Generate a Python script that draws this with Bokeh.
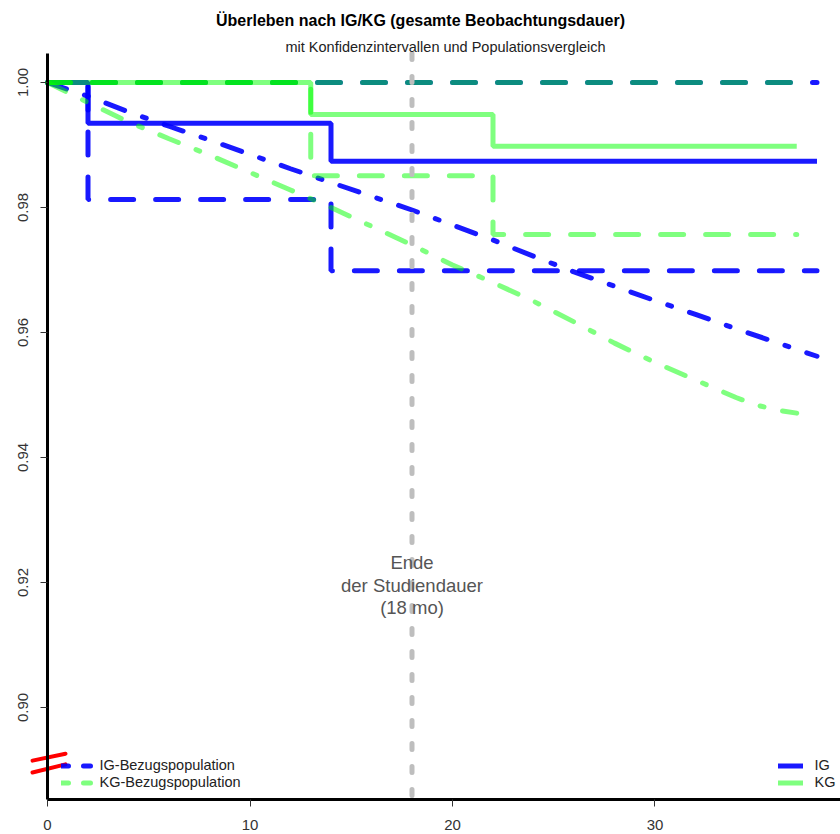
from bokeh.plotting import figure
from bokeh.models import Range1d, Label, Legend, LegendItem, FixedTicker
from bokeh.core.properties import value
from bokeh.embed import file_html
from bokeh.resources import INLINE

# ---- data ----
ig_time = [0, 2, 14, 38]
ig_surv = [1.0, 0.9935, 0.9874, 0.9874]
ig_lower = [1.0, 0.9813, 0.9699, 0.9699]
ig_upper = [1.0, 1.0, 1.0, 1.0]

kg_time = [0, 13, 22, 37]
kg_surv = [1.0, 0.9949, 0.9898, 0.9898]
kg_lower = [1.0, 0.9851, 0.9757, 0.9757]
kg_upper = [1.0, 1.0, 1.0, 1.0]

igpop_time = [0, 2, 4, 6, 8, 10, 12, 14, 16, 18, 20, 22, 24, 26, 28, 30, 32, 34, 36, 38]
igpop_surv = [1.0, 0.9978, 0.9953, 0.9930, 0.9908, 0.9885, 0.9862, 0.9840, 0.9818, 0.9796,
              0.9772, 0.9748, 0.9722, 0.9697, 0.9674, 0.9651, 0.9629, 0.9606, 0.9584, 0.9562]

kgpop_time = [0, 2, 4, 6, 8, 10, 12, 14, 16, 18, 20, 22, 24, 26, 28, 30, 32, 34, 35, 36, 37]
kgpop_surv = [1.0, 0.9968, 0.9937, 0.9910, 0.9884, 0.9856, 0.9828, 0.9800, 0.9770, 0.9740,
              0.9708, 0.9680, 0.9650, 0.9617, 0.9583, 0.9552, 0.9524, 0.9496, 0.9484, 0.9476, 0.9471]

study_end = 18
note_lines = ["Ende", "der Studiendauer", "(18 mo)"]
note_y = [0.9232, 0.9195, 0.9160]

y_ticks = [0.90, 0.92, 0.94, 0.96, 0.98, 1.00]
x_ticks = [0, 10, 20, 30]

# plot region (data units)
x_lo, x_hi = 0.0, 39.16
y_lo, y_hi = 0.88528, 1.00464

# axis break marks
break_x0 = [-0.74, -0.74]
break_x1 = [0.89, 0.89]
break_y0 = [0.8915, 0.8896]
break_y1 = [0.8926, 0.8909]

legend_left_labels = ["IG-Bezugspopulation", "KG-Bezugspopulation"]
legend_right_labels = ["IG", "KG"]

title_text = "Überleben nach IG/KG (gesamte Beobachtungsdauer)"
subtitle_text = "mit Konfidenzintervallen und Populationsvergleich"

BLUE = "#0000FF"
GREEN = "#00FF00"
FONT = "Liberation Sans"
NAN = float("nan")

p = figure(width=840, height=834, output_backend="svg", toolbar_location=None,
           x_range=Range1d(-2.321, 39.1605), y_range=Range1d(0.87968, 1.01312),
           min_border=0, min_border_left=0, min_border_right=0,
           min_border_top=0, min_border_bottom=0)
p.title.visible = False
p.xgrid.visible = False
p.ygrid.visible = False
p.outline_line_color = None
p.background_fill_color = "white"

xa = p.xaxis[0]
ya = p.yaxis[0]
xa.fixed_location = y_lo
ya.fixed_location = x_lo
xa.bounds = (x_lo, x_hi)
ya.bounds = (y_lo, y_hi)
for ax in (xa, ya):
    ax.axis_line_width = 3
    ax.axis_line_color = "black"
    ax.major_tick_line_color = "#333333"
    ax.major_tick_line_width = 1
    ax.major_tick_out = 7
    ax.major_tick_in = 0
    ax.minor_tick_line_color = None
    ax.major_label_text_font = FONT
    ax.major_label_text_font_size = "15px"
    ax.major_label_text_color = "#333333"

xa.ticker = FixedTicker(ticks=x_ticks)
ya.ticker = FixedTicker(ticks=y_ticks)
ya.major_label_orientation = "vertical"
ya.major_label_standoff = 13
xa.major_label_standoff = 13
ya.major_label_overrides = {t: f"{t:.2f}" for t in y_ticks}

LW = 5
DASH = "23 22"
DOTDASH = "20 19 4 19"

# IG (blue)
r_ig_up = p.step(ig_time, ig_upper, mode="after", line_color=BLUE, line_alpha=0.9,
                 line_width=LW, line_dash=DASH, line_cap="round")
r_ig_lo = p.step(ig_time, ig_lower, mode="after", line_color=BLUE, line_alpha=0.9,
                 line_width=LW, line_dash=DASH, line_cap="round")
r_ig = p.step(ig_time, ig_surv, mode="after", line_color=BLUE, line_alpha=0.9,
              line_width=LW)
r_igpop = p.line(igpop_time, igpop_surv, line_color=BLUE, line_alpha=0.9,
                 line_width=LW, line_dash=DOTDASH, line_cap="round")

# KG (green, half transparent)
r_kg = p.step(kg_time, kg_surv, mode="after", line_color=GREEN, line_alpha=0.5,
              line_width=LW)
r_kg_lo = p.step(kg_time, kg_lower, mode="after", line_color=GREEN, line_alpha=0.5,
                 line_width=LW, line_dash=DASH, line_cap="round")
r_kg_up = p.step(kg_time, kg_upper, mode="after", line_color=GREEN, line_alpha=0.5,
                 line_width=LW, line_dash=DASH, line_cap="round")
r_kgpop = p.line(kgpop_time, kgpop_surv, line_color=GREEN, line_alpha=0.5,
                 line_width=LW, line_dash=DOTDASH, line_cap="round")

# end of study line
p.segment(x0=[study_end], y0=[y_hi], x1=[study_end], y1=[y_lo], line_color="#BEBEBE",
          line_width=5, line_dash="6 17", line_cap="round")

p.text(x=[study_end] * len(note_lines), y=note_y, text=note_lines,
       text_align="center", text_baseline="middle", text_color="#555555",
       text_font=value(FONT), text_font_size="18.5px")

# axis break marks
p.segment(x0=break_x0, y0=break_y0, x1=break_x1, y1=break_y1,
          line_color="#FF0000", line_width=4, line_cap="round")

# legend-only sample renderers (one NaN point: nothing drawn in the plot area)
s_igpop = p.line([NAN], [NAN], line_color=BLUE, line_alpha=0.9, line_width=LW,
                 line_dash="7 15", line_cap="round")
s_kgpop = p.line([NAN], [NAN], line_color=GREEN, line_alpha=0.5, line_width=LW,
                 line_dash="7 15", line_cap="round")
s_ig = p.line([NAN], [NAN], line_color=BLUE, line_alpha=0.9, line_width=LW, line_cap="round")
s_kg = p.line([NAN], [NAN], line_color=GREEN, line_alpha=0.5, line_width=LW, line_cap="round")

leg_left = Legend(items=[LegendItem(label=legend_left_labels[0], renderers=[s_igpop]),
                         LegendItem(label=legend_left_labels[1], renderers=[s_kgpop])],
                  location=(60.5, 43.5))
leg_left.glyph_width = 32
leg_left.label_standoff = 7
leg_right = Legend(items=[LegendItem(label=legend_right_labels[0], renderers=[s_ig]),
                          LegendItem(label=legend_right_labels[1], renderers=[s_kg])],
                   location=(777.5, 43.5))
leg_right.glyph_width = 25
leg_right.label_standoff = 12
for lg in (leg_left, leg_right):
    lg.border_line_color = None
    lg.background_fill_alpha = 0
    lg.padding = 0
    lg.margin = 0
    lg.spacing = 0
    lg.glyph_height = 17
    lg.label_height = 17
    lg.label_text_font = FONT
    lg.label_text_font_size = "14.5px"
    lg.label_text_color = "#222222"
    lg.label_text_baseline = "middle"
    p.add_layout(lg, "center")

# titles (screen px from the frame's bottom-left; frame = whole canvas)
p.add_layout(Label(x=420, y=814, x_units="screen", y_units="screen", text=title_text,
                   text_align="center", text_baseline="middle", text_font=FONT,
                   text_font_size="16px", text_font_style="bold", text_color="black"))
p.add_layout(Label(x=445, y=788, x_units="screen", y_units="screen", text=subtitle_text,
                   text_align="center", text_baseline="middle", text_font=FONT,
                   text_font_size="14.5px", text_color="#222222"))

open("out.html", "w").write(file_html(p, INLINE))
